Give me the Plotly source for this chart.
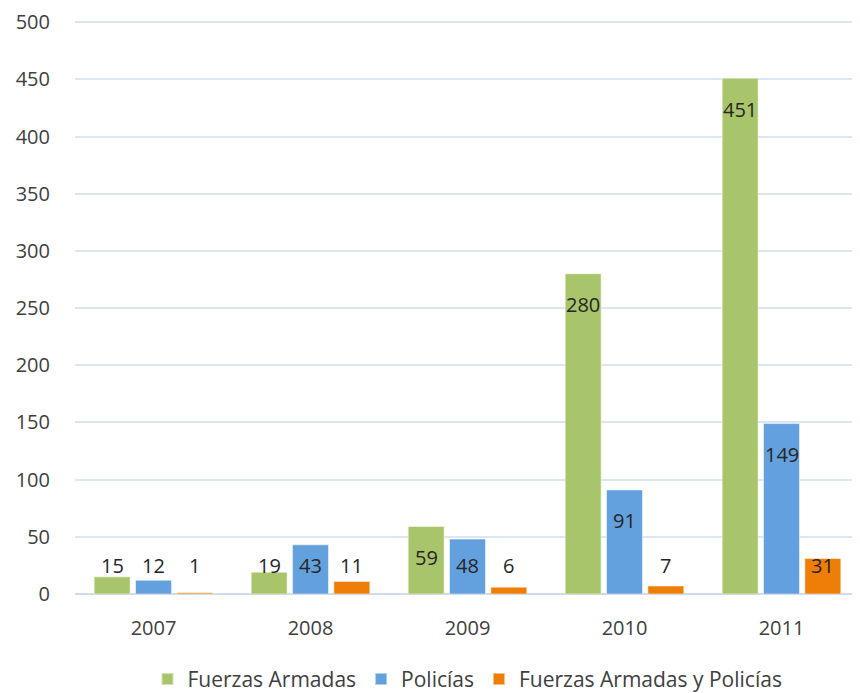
import plotly.graph_objects as go

years = ['2007', '2008', '2009', '2010', '2011']
fuerzas = [15, 19, 59, 280, 451]
policias = [12, 43, 48, 91, 149]
ambos = [1, 11, 6, 7, 31]

series = [
    ('Fuerzas Armadas', fuerzas, '#A9C56B'),
    ('Policías', policias, '#63A0DE'),
    ('Fuerzas Armadas y Policías', ambos, '#EF7E08'),
]

bargap = 0.21
slot = (1 - bargap) / len(series)
font_family = 'Open Sans, Noto Sans, sans-serif'

fig = go.Figure()
annotations = []
for k, (name, vals, col) in enumerate(series):
    fig.add_trace(go.Bar(
        name=name, x=list(range(len(years))), y=vals,
        marker=dict(color=col, line=dict(color='rgba(255,255,255,0.5)', width=1)),
    ))
    off = (k - 1) * slot
    for i, v in enumerate(vals):
        # labels sit inside the bar end, but never lower than a floor line
        annotations.append(dict(
            x=i + off, y=max(v - 27, 25), xref='x', yref='y',
            text=str(v), showarrow=False, yanchor='middle',
            font=dict(size=20, color='#262626', family=font_family),
        ))

# page body has an 8px margin, so the figure is a bit smaller than the window
fig.update_layout(
    barmode='group', bargap=bargap, bargroupgap=0.13,
    width=852, height=685,
    margin=dict(l=67, r=0, t=13, b=99, autoexpand=False),
    plot_bgcolor='white', paper_bgcolor='white',
    font=dict(family=font_family, size=20, color='#404040'),
    annotations=annotations,
    showlegend=True,
    legend=dict(orientation='h', x=0.5, xanchor='center', y=-0.113, yanchor='top',
                font=dict(size=21, color='#404040'), itemsizing='constant'),
)
fig.update_xaxes(
    tickmode='array', tickvals=list(range(len(years))), ticktext=years,
    range=[-0.5, len(years) - 0.5],
    showgrid=False, zeroline=False, showline=False, ticks='', ticklabelstandoff=20,
    automargin=False,
)
fig.update_yaxes(
    range=[0, 501], tickvals=list(range(0, 501, 50)),
    showgrid=True, gridcolor='#DCE6F2', gridwidth=1.5,
    zeroline=True, zerolinecolor='#D0DCEC', zerolinewidth=2,
    showline=False, ticks='', ticklabelstandoff=24, automargin=False,
    ticklabeloverflow='allow',
)

fig.write_html('out.html')
